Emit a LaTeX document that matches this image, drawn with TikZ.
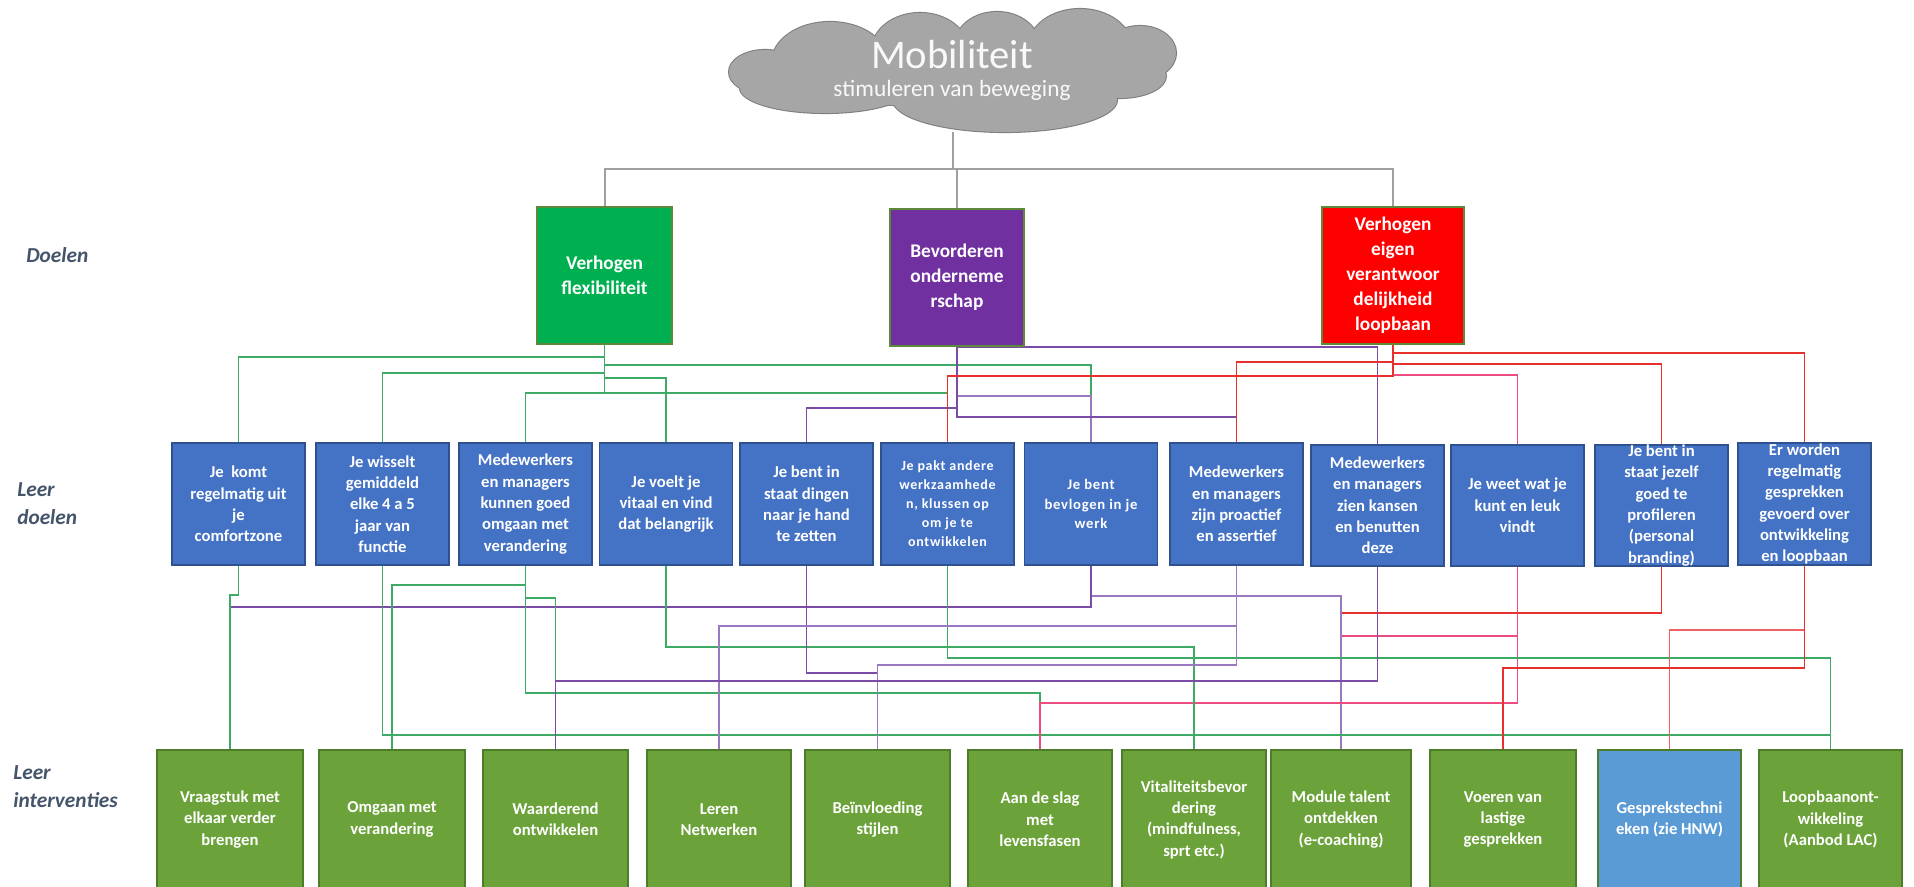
\documentclass[tikz,border=0pt]{standalone}
\usepackage{fontspec}
\setmainfont{Carlito}
\newfontfamily\spacedfont[LetterSpace=5]{Carlito}
\pgfdeclarelayer{background}
\pgfsetlayers{background,main}

\definecolor{bluefill}{HTML}{4472C4}
\definecolor{blueborder}{HTML}{2F528F}
\definecolor{ifill}{HTML}{6BA33A}
\definecolor{iborder}{HTML}{4E7D2A}
\definecolor{lbfill}{HTML}{5B9BD5}
\definecolor{dgreen}{HTML}{00B050}
\definecolor{dpurple}{HTML}{7030A0}
\definecolor{dred}{HTML}{FF0000}
\definecolor{dborder}{HTML}{5C8A3A}
\definecolor{cloudgray}{HTML}{A6A6A6}
\definecolor{cloudborder}{HTML}{7F7F7F}
\definecolor{lgreen}{HTML}{3DAA66}
\definecolor{lpurple}{HTML}{7B4BA8}
\definecolor{lpurplelt}{HTML}{9A78C2}
\definecolor{lred}{HTML}{E8302C}
\definecolor{lpink}{HTML}{EC4C7E}
\definecolor{lsalmon}{HTML}{F06262}
\definecolor{labelcol}{HTML}{44546A}
\definecolor{grayline}{HTML}{A0A0A0}

\newcommand\myconn[4]{\draw[#1] (#2.south) -- (#2.south |- 0,#4) -| (#3.north);}
\newcommand\cloudparts[1]{%
  \path[#1] (765,72) ellipse [x radius=36, y radius=22];
  \path[#1] (830,62) ellipse [x radius=58, y radius=40];
  \path[#1] (920,50) ellipse [x radius=48, y radius=37];
  \path[#1] (997,45) ellipse [x radius=42, y radius=33];
  \path[#1] (1080,48) ellipse [x radius=52, y radius=39];
  \path[#1] (1140,53) ellipse [x radius=36, y radius=27];
  \path[#1] (1120,76) ellipse [x radius=46, y radius=22];
  \path[#1] (1005,100) ellipse [x radius=112, y radius=32];
  \path[#1] (825,88) ellipse [x radius=85, y radius=25];
  \path[#1] (950,72) ellipse [x radius=170, y radius=35];
}

\tikzset{
  box/.style={line width=1pt, inner sep=0pt, align=center, text=white},
  bluebox/.style={box, fill=bluefill, draw=blueborder, minimum width=99.75pt, minimum height=91.5pt, font=\fontsize{12.5}{16}\selectfont\bfseries},
  ibox/.style={box, fill=ifill, draw=iborder, minimum height=104.25pt, font=\fontsize{12.5}{16}\selectfont\bfseries},
  dbox/.style={box, draw=dborder, minimum height=102.75pt, font=\fontsize{14.5}{18.75}\selectfont\bfseries},
  sidelabel/.style={anchor=west, align=left, inner sep=0pt, text=labelcol, font=\fontsize{16}{21}\selectfont\bfseries\itshape},
  conline/.style={line width=1.4pt},
  gl/.style={conline, draw=lgreen},
  pl/.style={conline, draw=lpurple},
  plt/.style={conline, draw=lpurplelt},
  rl/.style={conline, draw=lred},
  pk/.style={conline, draw=lpink},
  sl/.style={conline, draw=lsalmon},
  grl/.style={line width=1.5pt, draw=grayline},
  cloudedge/.style={draw=cloudborder, line width=1.6pt},
  cloudfill/.style={fill=cloudgray},
}

\begin{document}
\begin{tikzpicture}[x=0.75pt,y=-0.75pt]
\useasboundingbox (0,0) rectangle (1914,887);

% cloud
\cloudparts{cloudedge}
\cloudparts{cloudfill}
\node[minimum width=335.25pt, minimum height=91.5pt, inner sep=0pt] (cloud) at (952.5,71) {};
\node[text=white!95!gray, font=\fontsize{30.5}{33}\selectfont, inner sep=0pt] (cloudtitle) at (952,55) {Mobiliteit};
\node[text=white!95!gray, font=\fontsize{17.5}{20}\selectfont, inner sep=0pt] (cloudsub) at (952,90) {stimuleren van beweging};

% side labels
\node[sidelabel] (lab1) at (26,255) {Doelen};
\node[sidelabel] (lab2) at (17,504) {Leer\\doelen};
\node[sidelabel] (lab3) at (13,787) {Leer\\interventies};

% Doelen
\node[dbox, fill=dgreen, minimum width=101.25pt] (gd) at (604.5,275.5) {Verhogen\\flexibiliteit};
\node[dbox, fill=dpurple, minimum width=100.5pt] (pd) at (957,277.5) {Bevorderen\\onderneme\\rschap};
\node[dbox, fill=dred, minimum width=106.5pt] (rd) at (1393,275.5) {Verhogen\\eigen\\verantwoor\\delijkheid\\loopbaan};

% Leer doelen
\node[bluebox] (b1) at (238.5,504) {Je\ \ komt\\regelmatig uit\\je\\comfortzone};
\node[bluebox] (b2) at (382.5,504) {Je wisselt\\gemiddeld\\elke 4 a 5\\jaar van\\functie};
\node[bluebox] (b3) at (525.5,504) {Medewerkers\\en managers\\kunnen goed\\omgaan met\\verandering};
\node[bluebox] (b4) at (666,504) {Je voelt je\\vitaal en vind\\dat belangrijk};
\node[bluebox] (b5) at (806.5,504) {Je bent in\\staat dingen\\naar je hand\\te zetten};
\node[bluebox, font=\spacedfont\fontsize{10.5}{14.3}\selectfont\bfseries] (b6) at (947.5,504) {Je pakt andere\\werkzaamhede\\n, klussen op\\om je te\\ontwikkelen};
\node[bluebox, font=\spacedfont\fontsize{11}{14.6}\selectfont\bfseries] (b7) at (1091,504) {Je bent\\bevlogen in je\\werk};
\node[bluebox] (b8) at (1236.5,504) {Medewerkers\\en managers\\zijn proactief\\en assertief};
\node[bluebox, minimum height=90.75pt] (b9) at (1377.5,505.5) {Medewerkers\\en managers\\zien kansen\\en benutten\\deze};
\node[bluebox, minimum height=90.75pt] (b10) at (1517.5,505.5) {Je weet wat je\\kunt en leuk\\vindt};
\node[bluebox, minimum height=90.75pt] (b11) at (1661.5,505.5) {Je bent in\\staat jezelf\\goed te\\profileren\\(personal\\branding)};
\node[bluebox] (b12) at (1804.5,504) {Er worden\\regelmatig\\gesprekken\\gevoerd over\\ontwikkeling\\en loopbaan};

% Leer interventies
\node[ibox, minimum width=109.5pt] (i1) at (230,819.5) {Vraagstuk met\\elkaar verder\\brengen};
\node[ibox, minimum width=109.5pt] (i2) at (392,819.5) {Omgaan met\\verandering};
\node[ibox, minimum width=108.75pt] (i3) at (555.5,819.5) {Waarderend\\ontwikkelen};
\node[ibox, minimum width=108pt] (i4) at (719,819.5) {Leren\\Netwerken};
\node[ibox, minimum width=108.75pt] (i5) at (877.5,819.5) {Beïnvloeding\\stijlen};
\node[ibox, minimum width=108pt] (i6) at (1040,819.5) {Aan de slag\\met\\levensfasen};
\node[ibox, minimum width=108pt] (i7) at (1194,819.5) {Vitaliteitsbevor\\dering\\(mindfulness,\\sprt etc.)};
\node[ibox, minimum width=105pt] (i8) at (1341,819.5) {Module talent\\ontdekken\\(e-coaching)};
\node[ibox, minimum width=109.5pt] (i9) at (1503,819.5) {Voeren van\\lastige\\gesprekken};
\node[ibox, fill=lbfill, minimum width=107.25pt] (i10) at (1669.5,819.5) {Gesprekstechni\\eken (zie HNW)};
\node[ibox, minimum width=107.25pt] (i11) at (1830.5,819.5) {Loopbaanont-\\wikkeling\\(Aanbod LAC)};

\begin{pgfonlayer}{background}
% cloud to doelen
\draw[grl] (cloud.south) -- (cloud.south |- 0,169) -| (gd.north);
\draw[grl] (cloud.south) -- (cloud.south |- 0,169) -| (pd.north);
\draw[grl] (cloud.south) -- (cloud.south |- 0,169) -| (rd.north);

% green doelen -> leer doelen
\myconn{gl}{gd}{b1}{357}
\myconn{gl}{gd}{b7}{365}
\myconn{gl}{gd}{b2}{373}
\myconn{gl}{gd}{b4}{378}
\myconn{gl}{gd}{b3}{393}
\myconn{gl}{gd}{b6}{393}

% purple doelen -> leer doelen
\myconn{pl}{pd}{b9}{347}
\myconn{plt}{pd}{b7}{396}
\myconn{pl}{pd}{b5}{408}
\myconn{pl}{pd}{b8}{417}

% red doelen -> leer doelen
\myconn{rl}{rd}{b12}{353}
\myconn{rl}{rd}{b8}{362}
\myconn{rl}{rd}{b11}{364}
\myconn{pk}{rd}{b10}{375}
\myconn{rl}{rd}{b6}{376}

% leer doelen -> interventies
\myconn{rl}{b11}{i8}{613}
\myconn{pk}{b10}{i8}{636}
\myconn{plt}{b7}{i8}{596}
\myconn{pl}{b7}{i1}{607}
\myconn{gl}{b1}{i1}{595}
\myconn{gl}{b2}{i11}{735}
\myconn{gl}{b3}{i2}{585}
\myconn{gl}{b3}{i3}{598}
\myconn{gl}{b3}{i6}{693}
\myconn{pk}{b10}{i6}{703}
\myconn{gl}{b4}{i7}{647}
\myconn{pl}{b5}{i5}{673}
\myconn{gl}{b6}{i11}{658}
\myconn{plt}{b8}{i4}{626}
\myconn{plt}{b8}{i5}{665}
\myconn{pl}{b9}{i3}{681}
\myconn{sl}{b12}{i10}{630}
\myconn{rl}{b12}{i9}{668}
\end{pgfonlayer}
\end{tikzpicture}
\end{document}
